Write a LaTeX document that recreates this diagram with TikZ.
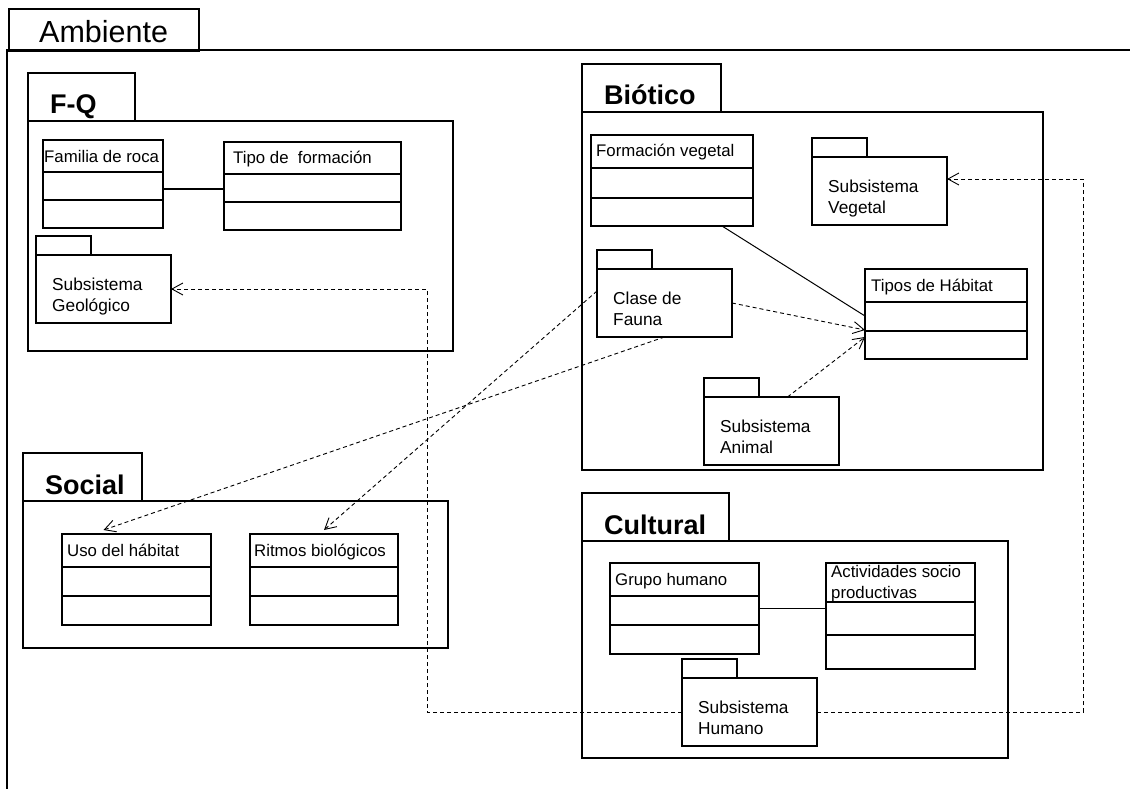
\documentclass[tikz,border=0pt]{standalone}
\usepackage{fontspec}
\setmainfont{Liberation Sans}
\usetikzlibrary{arrows.meta}

\tikzset{
  frame/.style={draw, line width=2.4pt, inner sep=0pt, outer sep=0pt, anchor=north west},
  classbox/.style={draw, line width=1.8pt, fill=white, inner sep=0pt, outer sep=0pt, anchor=north west},
  pkgbox/.style={draw, line width=1.1pt, fill=white, inner sep=0pt, outer sep=0pt},
  txt/.style={anchor=base west, inner sep=0pt, font=\fontsize{16.8}{20}\selectfont},
  pkgtxt/.style={anchor=base west, inner sep=0pt, font=\fontsize{17.3}{21}\selectfont},
  bigtxt/.style={anchor=base west, inner sep=0pt, font=\fontsize{27}{32}\selectfont\bfseries},
  assoc/.style={draw, line width=1.8pt},
  dep/.style={draw, line width=0.9pt, dash pattern=on 4pt off 3pt, -{Straight Barb[length=11pt,width=12pt]}},
}

\newcommand{\umlclass}[7]{%
  \node[classbox, minimum width=#4pt, minimum height=#5pt] (#1) at (#2,#3) {};
  \draw[line width=1.8pt] ([yshift=-#6pt]#1.north west) -- ([yshift=-#6pt]#1.north east)
    ([yshift=-#7pt]#1.north west) -- ([yshift=-#7pt]#1.north east);
}
\newcommand{\umlpkg}[5]{%
  \node[pkgbox, anchor=north west, minimum width=135pt, minimum height=68pt] (#1) at (#2,#3) {};
  \node[pkgbox, anchor=south west, minimum width=55pt, minimum height=19pt] (#1-tab) at (#1.north west) {};
  \node[pkgtxt] (#1-a) at ([xshift=16pt,yshift=-35pt]#1.north west) {#4};
  \node[pkgtxt] (#1-b) at ([xshift=16pt,yshift=-56pt]#1.north west) {#5};
}
\newcommand{\bigpkg}[7]{%
  \node[frame, minimum width=#4pt, minimum height=#5pt] (#1) at (#2,#3) {};
  \node[frame, anchor=south west, minimum width=#6pt, minimum height=48pt] (#1-tab) at (#1.north west) {};
  \node[bigtxt] (#1-lbl) at ([xshift=22pt,yshift=7pt]#1.north west) {#7};
}

\begin{document}
\begin{tikzpicture}[x=1pt,y=-1pt]
  \useasboundingbox (0,0) rectangle (1130,789);

  \node[draw, line width=2pt, inner sep=0pt, anchor=north west, minimum width=190pt, minimum height=42pt] (amb-tab) at (8,8) {};
  \node[anchor=base west, inner sep=0pt, font=\fontsize{30.5}{36}\selectfont] (amb-lbl) at (39,43) {Ambiente};
  \draw[line width=2pt] (1130,50) -- (7,50) -- (7,789);

  \bigpkg{fq}{28}{121}{425}{230}{107}{F-Q}
  \bigpkg{bio}{582}{112}{461}{358}{139}{Biótico}
  \bigpkg{soc}{23}{501}{425}{147}{119}{Social}
  \bigpkg{cul}{582}{541}{426}{217}{147}{Cultural}

  \umlclass{fam}{43}{140}{120}{88}{32}{60}
  \node[txt] (fam-t) at ([xshift=1pt,yshift=-23pt]fam.north west) {Familia de roca};
  \umlclass{tipo}{224}{142}{177}{88}{32}{60}
  \node[txt] (tipo-t) at ([xshift=9pt,yshift=-22pt]tipo.north west) {Tipo de \ formación};
  \umlpkg{geo}{36}{255}{Subsistema}{Geológico}

  \umlclass{forveg}{591}{135}{162}{91}{33}{63}
  \node[txt] (forveg-t) at ([xshift=5pt,yshift=-22pt]forveg.north west) {Formación vegetal};
  \umlclass{hab}{865}{269}{162}{90}{33}{62}
  \node[txt] (hab-t) at ([xshift=6pt,yshift=-22pt]hab.north west) {Tipos de Hábitat};
  \umlpkg{veg}{812}{157}{Subsistema}{Vegetal}
  \umlpkg{fauna}{597}{269}{Clase de}{Fauna}
  \umlpkg{animal}{704}{397}{Subsistema}{Animal}

  \umlclass{uso}{62}{534}{149}{91}{33}{62}
  \node[txt] (uso-t) at ([xshift=5pt,yshift=-22pt]uso.north west) {Uso del hábitat};
  \umlclass{ritmos}{250}{534}{148}{91}{33}{62}
  \node[txt] (ritmos-t) at ([xshift=4pt,yshift=-22pt]ritmos.north west) {Ritmos biológicos};

  \umlclass{grupo}{610}{563}{149}{91}{33}{62}
  \node[txt] (grupo-t) at ([xshift=5pt,yshift=-22pt]grupo.north west) {Grupo humano};
  \umlclass{activ}{826}{563}{149}{106}{39}{72}
  \node[txt] (activ-t1) at ([xshift=5pt,yshift=-14pt]activ.north west) {Actividades socio};
  \node[txt] (activ-t2) at ([xshift=5pt,yshift=-35pt]activ.north west) {productivas};
  \umlpkg{hum}{682}{678}{Subsistema}{Humano}

  \coordinate (bendL) at (427,712);
  \coordinate (bendR) at (1083,712);

  \draw[assoc] ([yshift=-5pt]fam.east) -- ([yshift=-3pt]tipo.west);
  \draw[assoc] (grupo.east) -- (grupo.east -| activ.west);
  \draw[line width=1pt] ([xshift=-31pt]forveg.south east) -- ([yshift=-2pt]hab.west);
  \draw[dep] (fauna.east) -- ([yshift=-16pt]hab.west);
  \draw[dep] ([xshift=16pt]animal.north) -- ([yshift=-23pt]hab.west);
  \draw[dep] (fauna.south) -- ([xshift=-33pt,yshift=4pt]uso.north);
  \draw[dep] ([yshift=12pt]fauna.west) -- ([yshift=4pt]ritmos.north);
  \draw[dep] (hum.west) -- (bendL) |- (geo.east);
  \draw[dep] (hum.east) -- (bendR) |- ([yshift=12pt]veg.east);
\end{tikzpicture}
\end{document}
